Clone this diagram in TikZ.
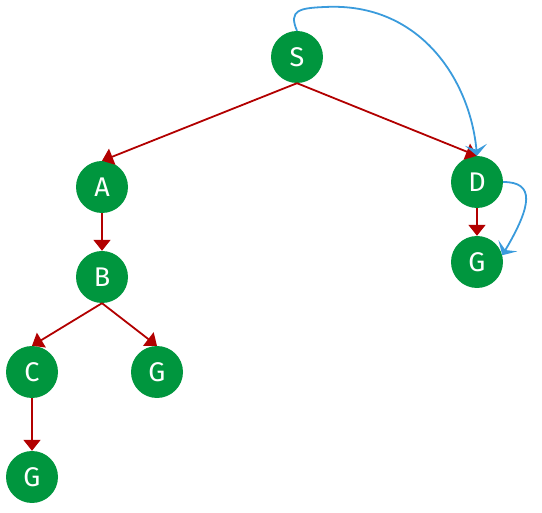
\documentclass[tikz,border=0pt]{standalone}
\usepackage{fontspec}
\setmainfont{Fira Sans}
\usetikzlibrary{arrows.meta}
\definecolor{ngreen}{RGB}{0,150,62}
\definecolor{ered}{RGB}{178,0,0}
\definecolor{eblue}{RGB}{58,155,220}
\tikzset{
  vtx/.style={circle,fill=ngreen,minimum size=52pt,inner sep=0pt,text=white,font=\fontsize{27}{27}\selectfont},
  tree/.style={draw=ered,line width=1.8pt,-{Triangle[length=11pt,width=17pt]}},
  search/.style={draw=eblue,line width=1.8pt,-{Stealth[length=11pt,width=22pt,inset=5pt]}}
}
\begin{document}
\begin{tikzpicture}[x=1pt,y=-1pt]
\useasboundingbox (0,0) rectangle (542,513);
\node[vtx] (S) at (297,57) {S};
\node[vtx] (A) at (102,187) {A};
\node[vtx] (B) at (102,277) {B};
\node[vtx] (C) at (32,372) {C};
\node[vtx] (G1) at (157,372) {G};
\node[vtx] (G2) at (32,477) {G};
\node[vtx] (D) at (477,182) {D};
\node[vtx] (G3) at (477,262) {G};
\draw[tree] (S.south) -- (A.north);
\draw[tree] (S.south) -- (D.north);
\draw[tree] (A.south) -- (B.north);
\draw[tree] (B.south) -- (C.north);
\draw[tree] (B.south) -- (G1.north);
\draw[tree] (C.south) -- (G2.north);
\draw[tree] (D.south) -- (G3.north);
\draw[search] (S.north) .. controls (288,10) and (300,8) .. (325,7) .. controls (420,2) and (470,80) .. (D.north);
\draw[search] (D.east) .. controls (535,182) and (532,205) .. (G3.15);
\end{tikzpicture}
\end{document}
